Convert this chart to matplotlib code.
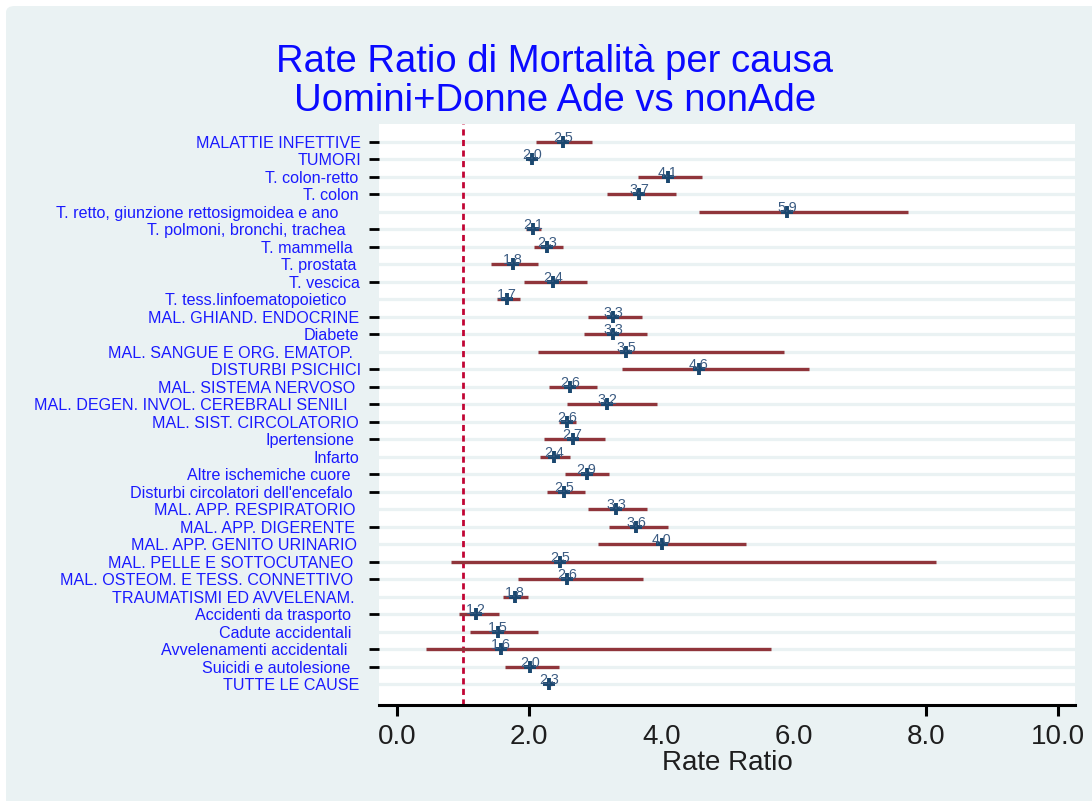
import matplotlib.pyplot as plt
import matplotlib.patches as mpatches
import numpy as np

plt.rcParams['font.family'] = ['Liberation Sans', 'DejaVu Sans']

causes = [
    "MALATTIE INFETTIVE", "TUMORI", "T. colon-retto", "T. colon",
    "T. retto, giunzione rettosigmoidea e ano", "T. polmoni, bronchi, trachea",
    "T. mammella", "T. prostata", "T. vescica", "T. tess.linfoematopoietico",
    "MAL. GHIAND. ENDOCRINE", "Diabete", "MAL. SANGUE E ORG. EMATOP.",
    "DISTURBI PSICHICI", "MAL. SISTEMA NERVOSO",
    "MAL. DEGEN. INVOL. CEREBRALI SENILI", "MAL. SIST. CIRCOLATORIO",
    "Ipertensione", "Infarto", "Altre ischemiche cuore",
    "Disturbi circolatori dell'encefalo", "MAL. APP. RESPIRATORIO",
    "MAL. APP. DIGERENTE", "MAL. APP. GENITO URINARIO",
    "MAL. PELLE E SOTTOCUTANEO", "MAL. OSTEOM. E TESS. CONNETTIVO",
    "TRAUMATISMI ED AVVELENAM.", "Accidenti da trasporto",
    "Cadute accidentali", "Avvelenamenti accidentali",
    "Suicidi e autolesione", "TUTTE LE CAUSE",
]
rr = [2.51, 2.04, 4.10, 3.67, 5.90, 2.06, 2.27, 1.76, 2.36, 1.66,
      3.27, 3.27, 3.47, 4.57, 2.62, 3.18, 2.58, 2.66, 2.38, 2.87,
      2.53, 3.32, 3.62, 4.01, 2.47, 2.58, 1.79, 1.20, 1.53, 1.57,
      2.02, 2.30]
ci_low = [2.10, 1.98, 3.65, 3.18, 4.57, 1.95, 2.07, 1.42, 1.92, 1.51,
          2.89, 2.83, 2.14, 3.40, 2.30, 2.57, 2.45, 2.23, 2.17, 2.54,
          2.27, 2.89, 3.21, 3.05, 0.82, 1.83, 1.61, 0.94, 1.10, 0.44,
          1.63, 2.26]
ci_high = [2.95, 2.09, 4.62, 4.22, 7.74, 2.18, 2.52, 2.14, 2.87, 1.86,
           3.71, 3.78, 5.85, 6.23, 3.03, 3.93, 2.71, 3.15, 2.62, 3.21,
           2.84, 3.78, 4.10, 5.28, 8.15, 3.72, 1.98, 1.54, 2.14, 5.66,
           2.45, 2.34]
xticks = [0, 2, 4, 6, 8, 10]

# right end of each y label, in pixels (the original has uneven offsets)
label_end = [361, 361, 358.7, 358.7, 338, 346, 353, 356, 360, 346, 359,
             359, 353, 361, 355, 348, 359, 354, 359, 350, 353, 355, 355,
             357, 353, 353, 355, 351, 351, 347, 350, 359]
no_tick = [4, 7, 9, 12, 18, 21, 23, 26, 28, 31]

bg = "#eaf2f3"
navy = "#1a476f"
maroon = "#90353b"

fig = plt.figure(figsize=(10.92, 8.01), dpi=100, facecolor="white")
fig.patches.append(mpatches.FancyBboxPatch(
    (6 / 1092, -0.02), 1.02, 0.9925 + 0.02,
    boxstyle="round,pad=0,rounding_size=0.008",
    transform=fig.transFigure, facecolor=bg, edgecolor="none", zorder=-10))

ax = fig.add_axes([379 / 1092, 1 - 705 / 801, (1075 - 379) / 1092,
                   (705 - 124) / 801])
ax.set_facecolor("white")

y = np.arange(len(causes))
for yi in y:
    ax.axhline(yi, color=bg, lw=2.3, zorder=0)

ax.axvline(1.0, color="#c10534", lw=2.0, dashes=(2.2, 1.6), zorder=1)
ax.hlines(y, ci_low, ci_high, color=maroon, lw=2.4, zorder=2)
ax.plot(rr, y, ls="none", marker="+", ms=8, mew=2.8, color=navy, zorder=3)
for yi, v in zip(y, rr):
    ax.annotate(f"{v:.1f}", (v, yi), xytext=(0, 0), textcoords="offset points",
                ha="center", va="baseline", fontsize=10.3, color="#3b5b82",
                zorder=4)

ax.set_xlim(-0.27, 10.26)
ax.set_ylim(32.2, -1.03)

ax.set_yticks(y)
ax.set_yticklabels(causes, fontsize=11.6, color="#1a1aff")
ax.tick_params(axis="y", length=7.2, width=2.0, color="black")
for i, t in enumerate(ax.yaxis.get_major_ticks()):
    t.set_pad((369 - label_end[i]) / 1.389)
    if i in no_tick:
        t.tick1line.set_visible(False)

ax.set_xticks(xticks)
ax.set_xticklabels([f"{v:.1f}" for v in xticks], fontsize=20, color="#1e1e1e")
ax.tick_params(axis="x", length=8, width=2.2, pad=6, color="black")
for i, t in enumerate(ax.xaxis.get_major_ticks()):
    if xticks[i] in (4, 6):
        t.tick1line.set_visible(False)
ax.set_xlabel("Rate Ratio", fontsize=20, color="#1e1e1e", labelpad=0)

for s in ["top", "right", "left"]:
    ax.spines[s].set_visible(False)
ax.spines["bottom"].set_linewidth(2.2)

fig.text(555 / 1092, 1 - 62 / 801, "Rate Ratio di Mortalità per causa",
         ha="center", va="center", fontsize=27.5, color="#0a0aff")
fig.text(555 / 1092, 1 - 101 / 801, "Uomini+Donne Ade vs nonAde",
         ha="center", va="center", fontsize=27.5, color="#0a0aff")

fig.savefig("out.png", dpi=100, facecolor=fig.get_facecolor())
